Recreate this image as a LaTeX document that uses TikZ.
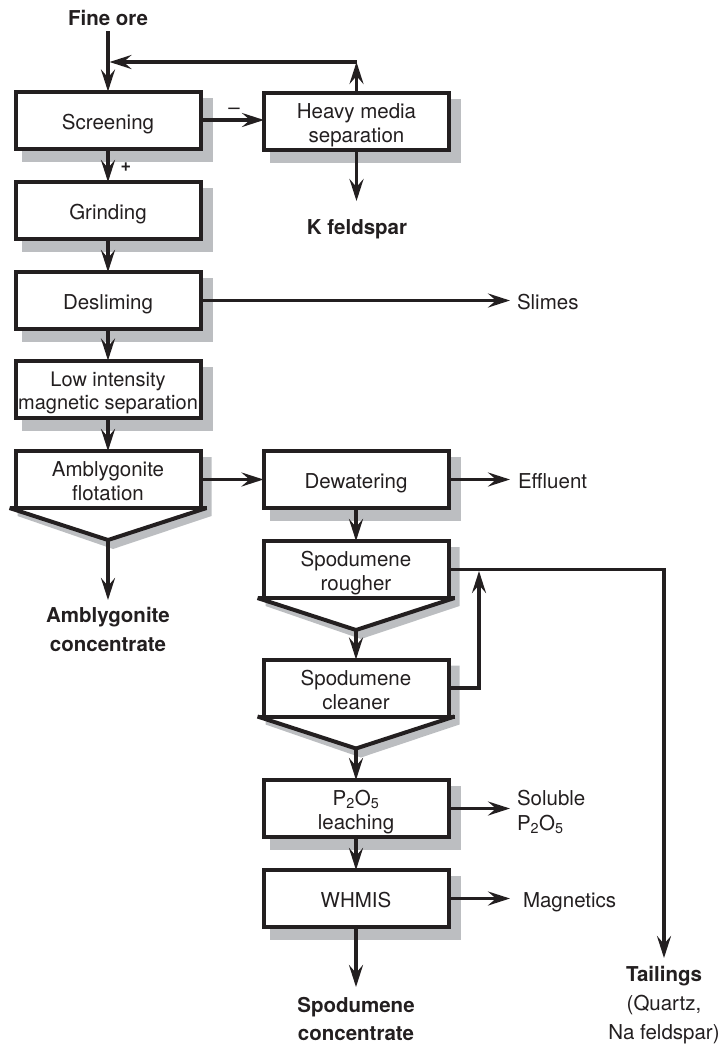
\documentclass[tikz,border=0pt]{standalone}
\usepackage{fontspec}
\setmainfont{TeX Gyre Heros}
\usetikzlibrary{arrows.meta,calc,backgrounds}
\definecolor{ink}{RGB}{35,31,32}
\definecolor{dropgray}{RGB}{188,190,193}
\newcommand{\boxfont}{\fontsize{20.5}{24}\selectfont}
\newcommand{\labfont}{\fontsize{20.5}{29}\selectfont}
% struts that fix the vertical placement of text in the stage boxes
\newcommand{\tstrut}{\rule{0pt}{23pt}}
\newcommand{\bstrut}{\rule[-5pt]{0pt}{0pt}}
% V-shaped concentrate outlet under a flotation stage
\newcommand{\trough}[1]{%
  \coordinate (#1-v) at ($(#1.south)+(0,32)$);
  \coordinate (#1-l) at ($(#1.south west)+(-6,0)$);
  \coordinate (#1-r) at ($(#1.south east)+(6,0)$);
  \fill[white] (#1-l) -- (#1-v) -- (#1-r) -- cycle;
  \draw[vline] (#1-l) -- (#1-v) -- (#1-r);
  \draw[vline] (#1-l) -- (#1-r);
}
% drop shadows
\newcommand{\shadowbox}[1]{\fill[dropgray] ($(#1.north west)+(6,6)$) rectangle ($(#1.south east)+(12,13)$);}
\newcommand{\shadowtrough}[1]{\fill[dropgray] ($(#1.north west)+(6,6)$) -- ($(#1.north east)+(11,6)$) -- ($(#1.south east)+(11,8)$) -- ($(#1-v)+(5,9)$) -- ($(#1-l)+(8,8)$) -- cycle;}
\begin{document}
\begin{tikzpicture}[x=1pt,y=-1pt,
  stage/.style={draw=ink, line width=4pt, fill=white, minimum width=185pt,
    minimum height=57pt, align=center, font=\boxfont, text=ink,
    inner sep=0pt, outer sep=0pt},
  lab/.style={inner sep=0pt, outer sep=0pt, font=\labfont, text=ink},
  flow/.style={draw=ink, line width=3.3pt,
    -{Stealth[length=22pt,width=14pt,inset=8pt]}},
  vline/.style={draw=ink, line width=4pt, line join=miter},
]
\useasboundingbox (0,0) rectangle (720,1045);

% process stages
\node[stage] (scr) at (108,120) {\tstrut Screening\bstrut};
\node[stage] (grd) at (108,210.5) {\tstrut Grinding\bstrut};
\node[stage] (dsl) at (108,300.5) {\tstrut Desliming\bstrut};
\node[stage, font=\fontsize{20}{23.5}\selectfont] (lims) at (108,389) {\tstrut Low intensity\\magnetic separation\bstrut};
\node[stage] (amb) at (108,479.5) {\tstrut Amblygonite\\flotation\bstrut};
\node[stage] (hms) at (356.5,121) {\tstrut Heavy media\\separation\bstrut};
\node[stage] (dew) at (356,479.5) {\tstrut Dewatering\bstrut};
\node[stage] (rgh) at (356,569.5) {\tstrut Spodumene\\rougher\bstrut};
\node[stage] (cln) at (356,688) {\tstrut Spodumene\\cleaner\bstrut};
\node[stage] (lch) at (356,808.5) {\tstrut P\textsubscript{2}O\textsubscript{5}\\leaching\bstrut};
\node[stage] (whm) at (356,898.5) {\tstrut WHMIS\bstrut};

\trough{amb}
\trough{rgh}
\trough{cln}

\begin{scope}[on background layer]
  \shadowbox{scr}
  \shadowbox{grd}
  \shadowbox{dsl}
  \shadowbox{lims}
  \shadowbox{hms}
  \shadowbox{dew}
  \shadowbox{lch}
  \shadowbox{whm}
  \shadowtrough{amb}
  \shadowtrough{rgh}
  \shadowtrough{cln}
\end{scope}

% feeds and products
\node[lab, font=\labfont\bfseries, anchor=base] (fine) at (108,25) {Fine ore};
\node[lab, font=\labfont\bfseries, anchor=base] (kf) at (357,234) {K feldspar};
\node[lab, anchor=base west] (slm) at (517,309) {Slimes};
\node[lab, anchor=base west] (eff) at (518,488) {Effluent};
\node[lab, anchor=north west, align=left, font=\fontsize{20.5}{25}\selectfont] (sol) at (517,790) {Soluble\\P\textsubscript{2}O\textsubscript{5}};
\node[lab, anchor=base west] (mag) at (523,907) {Magnetics};
\node[lab, font=\labfont\bfseries, anchor=north, align=center] (ambc) at (108,607) {Amblygonite\\concentrate};
\node[lab, font=\fontsize{20.5}{28}\selectfont\bfseries, anchor=north, align=center] (spc) at (356,997) {Spodumene\\concentrate};
\node[lab, anchor=north, align=center] (tail) at (664,966) {\textbf{Tailings}\\(Quartz,\\Na feldspar)};
\node[lab, font=\fontsize{18}{18}\selectfont\bfseries] (plus) at (126,167) {+};
\node[lab] (minus) at (234,111) {--};

% junction points of the recycle streams
\coordinate (hr) at (356.5,62);
\coordinate (fj) at (108,62);
\coordinate (rj) at (479,569.5);

% flows
\draw[flow, shorten <=6pt] (fine.south) -- (scr.north);
\draw[flow] (hms.north) -- (hr);
\draw[flow, shorten >=1.5pt] (hr) -- (fj);
\draw[flow] (scr.east) -- (scr.east -| hms.west);
\draw[flow] (scr.south) -- (grd.north);
\draw[flow] (grd.south) -- (dsl.north);
\draw[flow] (dsl.south) -- (lims.north);
\draw[flow] (lims.south) -- (amb.north);
\draw[flow, shorten >=18pt] (hms.south) -- (hms.south |- kf.north);
\draw[flow, shorten >=7pt] (dsl.east) -- (dsl.east -| slm.west);
\draw[flow] (amb.east) -- (amb.east -| dew.west);
\draw[flow, shorten >=8pt] (dew.east) -- (dew.east -| eff.west);
\draw[flow] (dew.south) -- (rgh.north);
\draw[flow, shorten >=7pt] (amb-v) -- (amb-v |- ambc.north);
\draw[flow] (rgh-v) -- (cln.north);
\draw[flow] (cln-v) -- (lch.north);
\draw[flow, shorten >=8pt] (rgh.east) -| (tail.north);
\draw[flow, shorten >=1.5pt] (cln.east) -| (rj);
\draw[flow, shorten >=7pt] (lch.east) -- (lch.east -| sol.west);
\draw[flow] (lch.south) -- (whm.north);
\draw[flow, shorten >=13pt] (whm.east) -- (whm.east -| mag.west);
\draw[flow, shorten >=10pt] (whm.south) -- (whm.south |- spc.north);
\end{tikzpicture}
\end{document}
